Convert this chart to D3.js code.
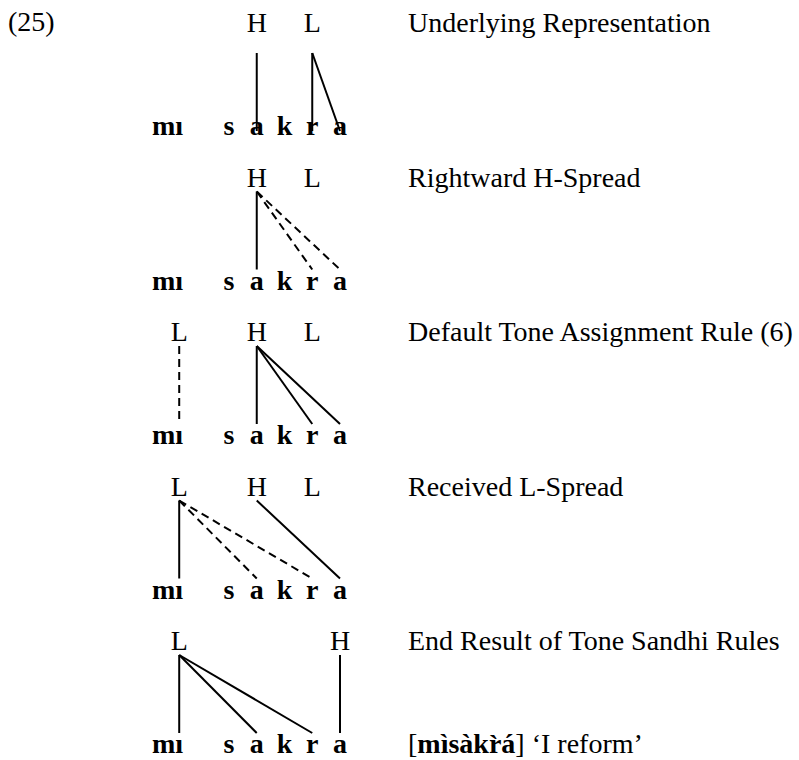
<!DOCTYPE html>
<html>
<head>
<meta charset="utf-8">
<script src="https://cdn.jsdelivr.net/npm/d3@7"></script>
<style>
  body { margin: 0; background: #fff; }
  text { font-family: "Liberation Serif", "Times New Roman", serif; fill: #000; }
</style>
</head>
<body>
<div id="chart"></div>
<script>
// example number and the derivation steps
var exampleNumber = "(25)";
var stepLabels = ["Underlying Representation", "Rightward H-Spread",
  "Default Tone Assignment Rule (6)", "Received L-Spread", "End Result of Tone Sandhi Rules"];

// segments: first word "mı", then the spaced word "s a k r a"
var rootWord = "mı";
var spacedWord = ["s", "a", "k", "r", "a"];

// tones per step, and which segment each tone sits over (0 = m, 1 = ı, 2 = s ... 6 = final a)
var stepTones = [["H", "L"], ["H", "L"], ["L", "H", "L"], ["L", "H", "L"], ["L", "H"]];
var stepToneSlots = [[3, 5], [3, 5], [1, 3, 5], [1, 3, 5], [1, 6]];

// association lines: [tone index, segment index, dashed?]
var stepLinks = [
  [[0, 3, 0], [1, 5, 0], [1, 6, 0]],
  [[0, 3, 0], [0, 5, 1], [0, 6, 1]],
  [[0, 1, 1], [1, 3, 0], [1, 5, 0], [1, 6, 0]],
  [[0, 1, 0], [0, 3, 1], [0, 5, 1], [1, 6, 0]],
  [[0, 1, 0], [0, 3, 0], [0, 5, 0], [1, 6, 0]]
];

var surfaceForm = "m\u00ecs\u00e0kr\u0300\u00e1";
var glossText = "\u2018I reform\u2019";

var width = 799,
  height = 760,
  fontSize = 28,
  segDrop = 103; // tone baseline -> segment baseline

var svg = d3.select("#chart").append("svg")
  .attr("width", width)
  .attr("height", height);

// one row per derivation step
var rowY = d3.scaleLinear()
  .domain([0, stepLabels.length - 1])
  .range([32, 650]);

// letters of the spaced word
var letterX = d3.scalePoint()
  .domain(d3.range(spacedWord.length))
  .range([229, 340]);

var rootX = 152,
  labelX = 408;

svg.append("text")
  .attr("x", 8)
  .attr("y", 31)
  .style("font-size", fontSize + "px")
  .text(exampleNumber);

// measure where the glyphs of the root word fall
var probe = svg.append("text")
  .attr("x", rootX)
  .attr("y", -100)
  .style("font-size", fontSize + "px")
  .style("font-weight", "bold")
  .text(rootWord);
var segCenters = [];
for (var c = 0; c < rootWord.length; c++) {
  var s = probe.node().getStartPositionOfChar(c).x,
    e = probe.node().getEndPositionOfChar(c).x;
  segCenters.push((s + e) / 2);
}
probe.remove();
spacedWord.forEach(function(d, i) {
  segCenters.push(letterX(i));
});

stepLabels.forEach(function(label, row) {
  var ty = rowY(row),
    sy = ty + segDrop;
  var g = svg.append("g");

  // the first row has its lines set lower in the source figure
  var shift = row === 0 ? 16 : 0;

  // association lines
  g.selectAll("line")
    .data(stepLinks[row])
    .enter()
    .append("line")
    .attr("x1", function(d) { return segCenters[stepToneSlots[row][d[0]]]; })
    .attr("y1", ty + 5 + shift)
    .attr("x2", function(d) { return segCenters[d[1]]; })
    .attr("y2", sy - 20 + shift)
    .style("stroke", "#000")
    .style("stroke-width", 2)
    .style("stroke-dasharray", function(d) { return d[2] ? "8,5" : null; });

  // tone tier
  g.selectAll("text.tone")
    .data(stepTones[row])
    .enter()
    .append("text")
    .attr("class", "tone")
    .attr("x", function(d, i) { return segCenters[stepToneSlots[row][i]]; })
    .attr("y", ty)
    .attr("text-anchor", "middle")
    .style("font-size", fontSize + "px")
    .text(function(d) { return d; });

  // segment tier
  g.append("text")
    .attr("x", rootX)
    .attr("y", sy)
    .style("font-size", fontSize + "px")
    .style("font-weight", "bold")
    .text(rootWord);

  g.selectAll("text.seg")
    .data(spacedWord)
    .enter()
    .append("text")
    .attr("class", "seg")
    .attr("x", function(d, i) { return letterX(i); })
    .attr("y", sy)
    .attr("text-anchor", "middle")
    .style("font-size", fontSize + "px")
    .style("font-weight", "bold")
    .text(function(d) { return d; });

  // step description
  g.append("text")
    .attr("x", labelX)
    .attr("y", ty)
    .style("font-size", fontSize + "px")
    .text(label);
});

// surface form and gloss on the last line
var gloss = svg.append("text")
  .attr("x", labelX)
  .attr("y", rowY(stepLabels.length - 1) + segDrop)
  .style("font-size", fontSize + "px");
gloss.append("tspan").text("[");
gloss.append("tspan").style("font-weight", "bold").text(surfaceForm);
gloss.append("tspan").text("] " + glossText);
</script>
</body>
</html>
